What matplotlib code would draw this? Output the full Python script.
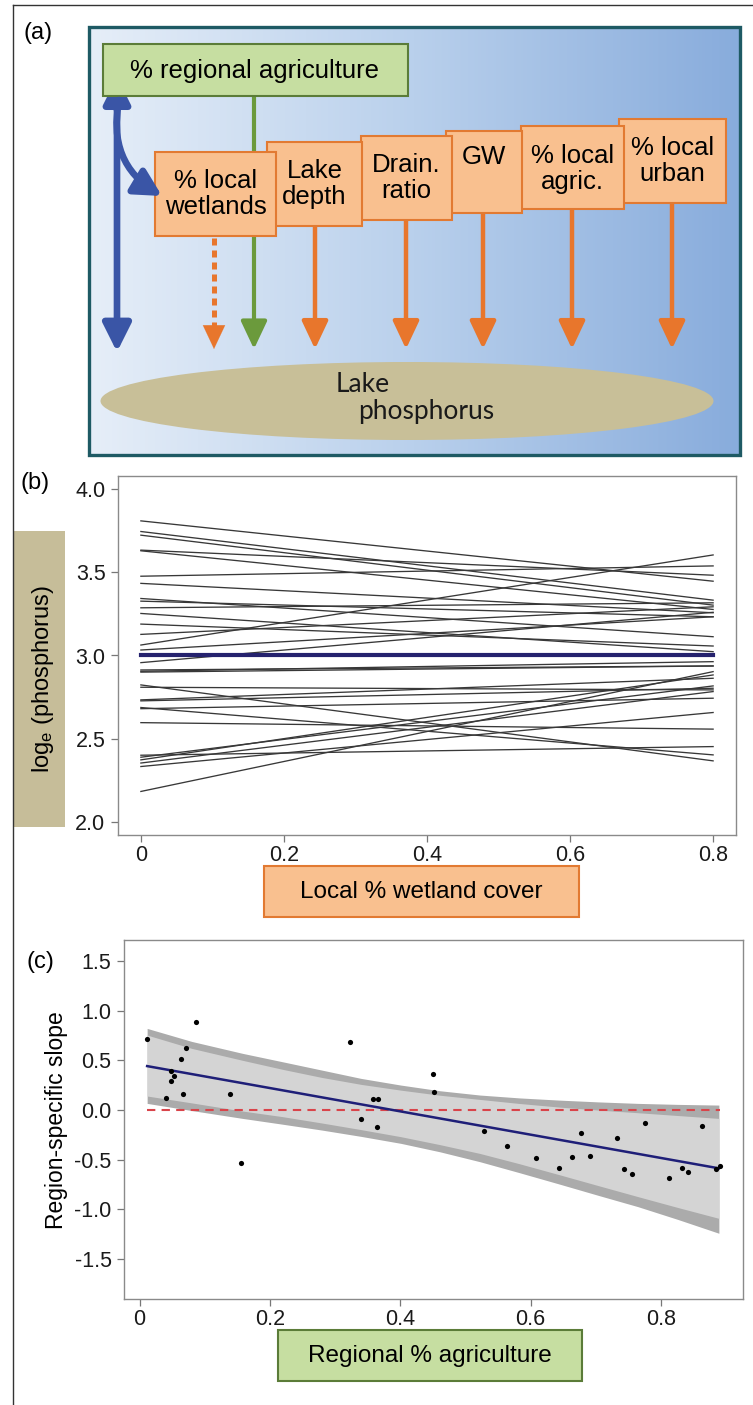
import numpy as np
import matplotlib
matplotlib.use('Agg')
import matplotlib.pyplot as plt
from matplotlib.patches import Rectangle, Ellipse, FancyArrowPatch
from matplotlib.colors import LinearSegmentedColormap

plt.rcParams['font.family'] = ['Liberation Sans', 'DejaVu Sans']
plt.rcParams['mathtext.fontset'] = 'custom'
plt.rcParams['mathtext.rm'] = 'Liberation Sans'
plt.rcParams['mathtext.it'] = 'Liberation Sans:italic'

# ---------------- data ----------------
panel_labels = ['(a)', '(b)', '(c)']
regional_label = '% regional agriculture'
driver_labels = ['% local\nwetlands', 'Lake\ndepth', 'Drain.\nratio', 'GW',
                 '% local\nagric.', '% local\nurban']
response_words = ['Lake', 'phosphorus']

# panel (b): region-specific lines, value at wetland cover 0 and 0.8
wet_x = [0.0, 0.8]
line_start = [3.81, 3.746, 3.724, 3.634, 3.63, 3.477, 3.434, 3.343, 3.327, 3.287,
              3.253, 3.189, 3.127, 3.063, 3.033, 2.957, 2.913, 2.905, 2.90, 2.823,
              2.809, 2.733, 2.727, 2.687, 2.68, 2.596, 2.40, 2.388, 2.372, 2.353,
              2.332, 2.182]
line_end = [3.447, 3.333, 3.303, 3.483, 3.277, 3.539, 3.257, 3.113, 3.233, 3.317,
            3.023, 3.057, 3.293, 3.605, 3.233, 3.26, 2.937, 2.963, 2.937, 2.366,
            2.793, 2.863, 2.803, 2.402, 2.743, 2.557, 2.452, 2.817, 2.883, 2.783,
            2.657, 2.903]
mean_line = [3.0, 3.0]
b_yticks = [2.0, 2.5, 3.0, 3.5, 4.0]
b_xticks = [0, 0.2, 0.4, 0.6, 0.8]
b_xticklabels = ['0', '0.2', '0.4', '0.6', '0.8']
b_ylabel = r'log$_{\rm e}$ (phosphorus)'
b_xlabel = 'Local % wetland cover'

# panel (c): region-specific slopes vs regional agriculture
agri = [0.0115, 0.0872, 0.0714, 0.0642, 0.0477, 0.0526, 0.0477, 0.0411, 0.0666,
        0.138, 0.1558, 0.3233, 0.340, 0.3584, 0.3657, 0.365, 0.4507, 0.4525,
        0.528, 0.564, 0.608, 0.6436, 0.663, 0.677, 0.691, 0.732, 0.744, 0.755,
        0.775, 0.812, 0.833, 0.842, 0.863, 0.884, 0.890]
slope = [0.710, 0.884, 0.623, 0.509, 0.389, 0.342, 0.288, 0.124, 0.164,
         0.158, -0.533, 0.687, -0.087, 0.110, 0.110, -0.167, 0.365, 0.178,
         -0.211, -0.358, -0.479, -0.586, -0.476, -0.228, -0.466, -0.278, -0.593, -0.647,
         -0.127, -0.680, -0.580, -0.620, -0.158, -0.596, -0.560]
band_x = [0.0115, 0.08, 0.158, 0.219, 0.2795, 0.340, 0.401, 0.461, 0.522, 0.583,
          0.644, 0.704, 0.765, 0.826, 0.889]
outer_hi = [0.821, 0.69, 0.57, 0.486, 0.402, 0.318, 0.251, 0.194, 0.151, 0.122,
            0.10, 0.082, 0.067, 0.057, 0.05]
inner_hi = [0.754, 0.62, 0.50, 0.41, 0.328, 0.258, 0.20, 0.149, 0.107, 0.066,
            0.03, 0.0, -0.027, -0.055, -0.084]
inner_lo = [0.141, 0.072, -0.010, -0.066, -0.130, -0.197, -0.268, -0.348, -0.436, -0.540,
            -0.650, -0.760, -0.871, -0.980, -1.089]
outer_lo = [0.067, -0.005, -0.084, -0.142, -0.201, -0.265, -0.335, -0.420, -0.519, -0.630,
            -0.744, -0.858, -0.972, -1.100, -1.239]
fit_x = [0.0115, 0.889]
fit_y = [0.442, -0.586]
zero_x = [0.0115, 0.891]
zero_y = [0.0, 0.0]
c_yticks = [-1.5, -1.0, -0.5, 0.0, 0.5, 1.0, 1.5]
c_xticks = [0, 0.2, 0.4, 0.6, 0.8]
c_xticklabels = ['0', '0.2', '0.4', '0.6', '0.8']
c_ylabel = 'Region-specific slope'
c_xlabel = 'Regional % agriculture'

# ---------------- colours ----------------
BLUE = '#3a55a6'
ORANGE = '#e8762c'
ORANGE_FILL = '#f9c08f'
ORANGE_EDGE = '#e27a32'
GREEN = '#6b9a3c'
GREEN_FILL = '#c6dea1'
GREEN_EDGE = '#5b7c38'
TAN = '#c8bf98'

W, H = 753, 1405
fig = plt.figure(figsize=(W / 100, H / 100), dpi=100)
bg = fig.add_axes([0, 0, 1, 1])
bg.set_xlim(0, W)
bg.set_ylim(H, 0)
bg.axis('off')

# outer frame
bg.plot([13, 13], [5, H], color='#333333', lw=1.0)
bg.plot([13, W], [5, 5], color='#333333', lw=1.0)

# ---------------- panel (a) diagram ----------------
cmap = LinearSegmentedColormap.from_list('bgblue', ['#e6eef8', '#b9d0ec', '#88acdc'])
grad = np.linspace(0, 1, 256).reshape(1, -1)
bg.imshow(grad, cmap=cmap, extent=(89, 740, 455, 27), aspect='auto', zorder=1)
bg.add_patch(Rectangle((89, 27), 651, 428, fill=False, ec='#1e5a64', lw=2.4, zorder=2))

# lake ellipse
bg.add_patch(Ellipse((407, 401), 613, 78, fc=TAN, ec='none', zorder=2))
bg.text(363, 384, response_words[0], ha='center', va='center', fontsize=19,
        family=['Lato', 'DejaVu Sans'], color='#1a1a1a', zorder=3)
bg.text(426, 412, response_words[1], ha='center', va='center', fontsize=19,
        family=['Lato', 'DejaVu Sans'], color='#1a1a1a', zorder=3)

# green regional box
bg.add_patch(Rectangle((103, 44), 305, 52, fc=GREEN_FILL, ec=GREEN_EDGE, lw=1.5, zorder=6))
bg.text(255, 71, regional_label, ha='center', va='center', fontsize=18.5, zorder=7)

def arrow(x, y0, y1, color, lw, z=4):
    a = FancyArrowPatch((x, y0), (x, y1), arrowstyle='-|>,head_length=1.7,head_width=0.8',
                        mutation_scale=10, color=color, lw=lw, shrinkA=0, shrinkB=0,
                        zorder=z)
    bg.add_patch(a)

# green arrow (behind the orange boxes)
arrow(254, 96, 349, GREEN, 3.0, z=3)

# orange driver boxes
boxes = [(155, 276, 152, 236), (267, 362, 142, 226), (361, 452, 136, 220),
         (446, 522, 131, 213), (521, 624, 126, 209), (619, 726, 119, 203)]
text_y = [194, 184, 178, 157, 169, 161]
arrow_x = [214, 315, 406, 483, 572, 672]
for i, ((x0, x1, y0, y1), lab) in enumerate(zip(boxes, driver_labels)):
    z = 12 - i
    bg.add_patch(Rectangle((x0, y0), x1 - x0, y1 - y0, fc=ORANGE_FILL, ec=ORANGE_EDGE,
                           lw=1.5, zorder=z))
    bg.text((x0 + x1) / 2, text_y[i], lab, ha='center', va='center', fontsize=18.5,
            linespacing=1.15, zorder=z)
    if i == 0:
        bg.plot([arrow_x[i], arrow_x[i]], [238, 326], color=ORANGE, lw=3.6,
                dashes=(1.4, 1.0), solid_capstyle='butt', zorder=4)
        arrow(arrow_x[i], 322, 349, ORANGE, 0.1)
    else:
        arrow(arrow_x[i], y1, 349, ORANGE, 3.2)

# blue correlation arrows
bg.add_patch(FancyArrowPatch((117, 100), (117, 352),
                             arrowstyle='-|>,head_length=1.7,head_width=0.85',
                             mutation_scale=10, color=BLUE, lw=4.8, shrinkA=0, shrinkB=0, zorder=4))
bg.add_patch(FancyArrowPatch((117, 110), (117, 77),
                             arrowstyle='-|>,head_length=1.6,head_width=0.8',
                             mutation_scale=10, color=BLUE, lw=4.8, shrinkA=0, shrinkB=0, zorder=4))
bg.add_patch(FancyArrowPatch((119, 100), (162, 196), connectionstyle='arc3,rad=0.35',
                             arrowstyle='-|>,head_length=1.6,head_width=0.85',
                             mutation_scale=10, color=BLUE, lw=4.8, shrinkA=0, shrinkB=0, zorder=13))

# ---------------- panel labels ----------------
bg.text(38, 33, panel_labels[0], ha='center', va='center', fontsize=17)
bg.text(35, 483, panel_labels[1], ha='center', va='center', fontsize=17)
bg.text(40, 962, panel_labels[2], ha='center', va='center', fontsize=17)

# ---------------- panel (b) ----------------
axb = fig.add_axes([118 / W, 1 - 835 / H, 618 / W, 359 / H])
for s, e in zip(line_start, line_end):
    axb.plot(wet_x, [s, e], color='#383838', lw=0.95, zorder=2)
axb.plot(wet_x, mean_line, color='#25226e', lw=3.0, zorder=3)
axb.set_xlim(-0.032, 0.832)
axb.set_ylim(1.92, 4.08)
axb.set_yticks(b_yticks)
axb.set_yticklabels(['%.1f' % v for v in b_yticks])
axb.set_xticks(b_xticks)
axb.set_xticklabels(b_xticklabels)

# ---------------- panel (c) ----------------
axc = fig.add_axes([124 / W, 1 - 1299 / H, 619 / W, 359 / H])
axc.fill_between(band_x, outer_lo, outer_hi, color='#ababab', lw=0, zorder=1)
axc.fill_between(band_x, inner_lo, inner_hi, color='#d4d4d4', lw=0, zorder=2)
axc.plot(zero_x, zero_y, color='#d9444a', lw=1.5, dashes=(4, 3), zorder=3)
axc.plot(fit_x, fit_y, color='#1f1f78', lw=1.8, zorder=4)
axc.scatter(agri, slope, s=14, color='black', zorder=5, lw=0)
axc.set_xlim(-0.024, 0.926)
axc.set_ylim(-1.90, 1.71)
axc.set_yticks(c_yticks)
axc.set_yticklabels(['%.1f' % v for v in c_yticks])
axc.set_xticks(c_xticks)
axc.set_xticklabels(c_xticklabels)

for ax in (axb, axc):
    for sp in ax.spines.values():
        sp.set_color('#8a8a8a')
        sp.set_linewidth(1.0)
    ax.tick_params(direction='out', length=5, width=0.9, color='#777777',
                   labelsize=15.5, labelcolor='#1a1a1a')
    ax.tick_params(axis='y', pad=4)
    ax.tick_params(axis='x', pad=2)

# axis label boxes
bg.add_patch(Rectangle((14, 531), 51, 296, fc='#c6bd99', ec='none', zorder=1))
bg.text(43, 679, b_ylabel, rotation=90, ha='center', va='center', fontsize=17)
bg.add_patch(Rectangle((264, 866), 315, 51, fc=ORANGE_FILL, ec=ORANGE_EDGE, lw=1.5))
bg.text(421, 892, b_xlabel, ha='center', va='center', fontsize=17.5)
bg.text(57, 1120, c_ylabel, rotation=90, ha='center', va='center', fontsize=16.5)
bg.add_patch(Rectangle((278, 1330), 304, 51, fc=GREEN_FILL, ec=GREEN_EDGE, lw=1.5))
bg.text(430, 1356, c_xlabel, ha='center', va='center', fontsize=17.5)

fig.savefig('out.png', dpi=100)
